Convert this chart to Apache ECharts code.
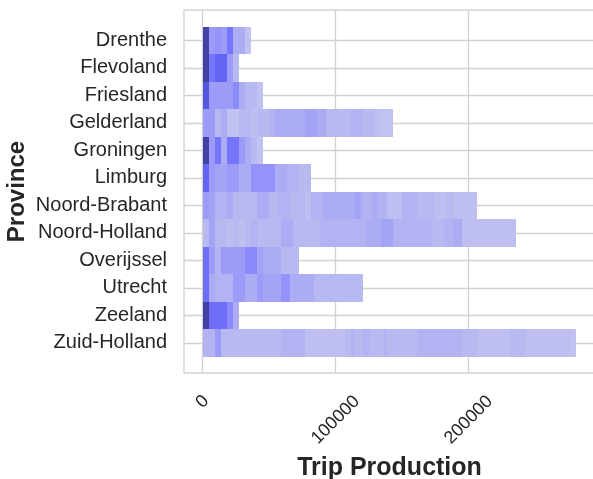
<!DOCTYPE html>
<html>
<head>
<meta charset="utf-8">
<script src="https://cdn.jsdelivr.net/npm/echarts@6/dist/echarts.min.js"></script>
<style>
html,body{margin:0;padding:0;background:#fff;}
#chart{width:593px;height:479px;}
</style>
</head>
<body>
<div id="chart"></div>
<script>
// Categories (y axis)
var provinces = ['Drenthe','Flevoland','Friesland','Gelderland','Groningen','Limburg',
  'Noord-Brabant','Noord-Holland','Overijssel','Utrecht','Zeeland','Zuid-Holland'];

// Histogram bins along Trip Production
var binStart = 450;
var binWidth = 2260;

// Estimated counts per bin, per province (starting at binStart)
var drenthe = [21,21,9,9,10,10,9,9,13,13,7,7,7,7,3,3];
var flevoland = [21,21,13,13,15,15,15,15,9,9,5,5];
var friesland = [17,17,9,9,9,9,9,9,9,9,11,11,7,7,5,5,5,5,3,3];
var gelderland = [9,9,9,9,5,5,7,7,3,3,3,3,5,5,5,5,4,4,5,5,5,5,6,6,7,7,7,7,7,7,7,7,7,7,8,8,8,8,7,7,7,5,5,5,5,5,5,5,5,6,6,6,6,5,5,5,5,4,4,3,3,3,3];
var groningen = [21,21,9,9,13,13,7,7,13,13,13,13,9,9,7,7,5,5,3,3];
var limburg = [15,15,9,9,8,8,8,8,9,9,9,9,7,7,7,7,10,10,10,10,10,10,10,10,7,7,7,7,6,6,6,6,5,5,5,5];
var noordBrabant = [9,9,8,8,6,6,6,6,7,7,5,5,5,5,5,5,5,5,7,7,7,7,5,5,5,6,6,6,6,5,5,5,5,5,4,4,6,6,6,6,7,7,7,7,7,7,7,7,7,7,8,8,7,6,6,6,7,7,6,6,6,4,4,4,4,4,6,6,6,6,6,5,5,5,5,5,5,4,4,4,4,5,5,4,4,4,4,4,4,4,4];
var noordHolland = [5,5,8,8,5,5,5,5,4,4,5,5,4,4,5,5,6,6,5,5,5,5,5,5,5,5,7,7,7,7,5,5,5,5,5,5,5,5,5,6,6,6,6,6,6,6,6,6,6,6,6,6,6,6,7,7,7,7,7,8,8,8,8,6,6,6,6,6,6,6,6,6,6,6,6,6,5,5,5,5,6,6,6,7,7,7,4,4,4,4,4,4,4,4,4,4,4,4,4,4,4,4,4,4];
var overijssel = [14,14,9,9,6,6,9,9,9,9,9,9,9,9,11,11,11,11,8,8,7,7,7,7,7,7,5,5,5,5,5,5];
var utrecht = [14,14,7,7,6,6,6,6,6,6,9,9,9,9,7,7,7,7,9,9,8,8,8,8,8,8,10,10,10,7,7,7,7,7,7,7,7,5,5,5,5,5,5,5,5,5,5,5,5,5,5,5,5];
var zeeland = [21,21,14,14,14,14,14,14,11,11,7,7];
var zuidHolland = [6,6,6,6,9,9,5,5,5,5,5,5,5,5,5,5,5,5,5,5,5,5,5,5,5,5,6,6,6,6,6,6,6,6,4,4,4,4,4,4,4,4,4,4,4,4,4,5,5,6,5,5,5,6,6,5,5,5,5,5,6,5,5,5,5,5,5,5,5,5,5,6,6,6,6,6,6,6,6,6,6,6,6,6,6,6,5,5,5,5,5,4,4,4,4,4,4,4,4,4,4,4,5,5,5,5,5,4,4,4,4,4,4,4,4,4,4,4,4,4,4,4,3,3];

var rows = [drenthe, flevoland, friesland, gelderland, groningen, limburg,
  noordBrabant, noordHolland, overijssel, utrecht, zeeland, zuidHolland];

// X tick labels
var xTicks = [0, 100000, 200000];

var cells = [];
rows.forEach(function (counts, r) {
  counts.forEach(function (c, i) {
    if (c > 0) {
      cells.push([binStart + i * binWidth, binStart + (i + 1) * binWidth, r, c]);
    }
  });
});

var chart = echarts.init(document.getElementById('chart'), null, {renderer: 'canvas'});
var font = "'Liberation Sans', Arial, sans-serif";
var gridColor = '#d2d2d2';

chart.setOption({
  backgroundColor: '#ffffff',
  animation: false,
  grid: {
    left: 184, top: 10, width: 411, height: 363,
    outerBoundsMode: 'none', containLabel: false,
    show: true, borderColor: gridColor, borderWidth: 1.3, backgroundColor: 'transparent'
  },
  visualMap: {
    show: false, type: 'continuous', dimension: 3, seriesIndex: 0,
    min: 1, max: 21,
    inRange: { color: ['#cbcbee','#c2c2f0','#b9b9f2','#acacf5','#9c9cf8','#8a8afb','#7676fc','#6565f5','#5757de','#4b4bbe','#4242a2'] }
  },
  xAxis: {
    type: 'value', min: -14000, max: 295000,
    name: 'Trip Production', nameLocation: 'middle', nameGap: 83, nameMoveOverlap: false,
    nameTextStyle: { fontFamily: font, fontWeight: 'bold', fontSize: 25, color: '#262626' },
    axisLine: { show: false },
    axisTick: { show: false, customValues: xTicks },
    splitLine: { show: true, lineStyle: { color: gridColor, width: 1.3 } },
    axisLabel: {
      customValues: xTicks,
      rotate: 45, align: 'center', verticalAlign: 'middle', margin: 47,
      fontFamily: font, fontSize: 18, color: '#262626',
      formatter: function (v) { return v === 0 ? '{z|0}' : '{a|' + v + '}'; },
      rich: {
        a: { fontFamily: font, fontSize: 18, color: '#262626' },
        z: { fontFamily: font, fontSize: 18, color: '#262626', padding: [0, 0, 26, 26] }
      }
    }
  },
  yAxis: {
    type: 'value', inverse: true, min: -1.1, max: 12.1,
    name: 'Province', nameLocation: 'middle', nameGap: 155, nameRotate: 90, nameMoveOverlap: false,
    nameTextStyle: { fontFamily: font, fontWeight: 'bold', fontSize: 24, color: '#262626' },
    axisLine: { show: false },
    axisTick: { show: false, customValues: provinces.map(function (p, i) { return i; }) },
    splitLine: { show: true, lineStyle: { color: gridColor, width: 1.3 } },
    axisLabel: {
      customValues: provinces.map(function (p, i) { return i; }),
      margin: 17, fontFamily: font, fontSize: 20, color: '#262626',
      formatter: function (v) { return provinces[Math.round(v)]; }
    }
  },
  series: [{
    type: 'custom',
    coordinateSystem: 'cartesian2d',
    encode: { x: [0, 1], y: 2 },
    data: cells,
    renderItem: function (params, api) {
      var p0 = api.coord([api.value(0), api.value(2) - 0.5]);
      var p1 = api.coord([api.value(1), api.value(2) + 0.5]);
      var x0 = Math.round(p0[0]), x1 = Math.round(p1[0]);
      var y0 = Math.round(Math.min(p0[1], p1[1])), y1 = Math.round(Math.max(p0[1], p1[1]));
      return {
        type: 'rect',
        shape: { x: x0, y: y0, width: x1 - x0, height: y1 - y0 },
        style: { fill: api.visual('color') }
      };
    }
  }]
});
</script>
</body>
</html>
